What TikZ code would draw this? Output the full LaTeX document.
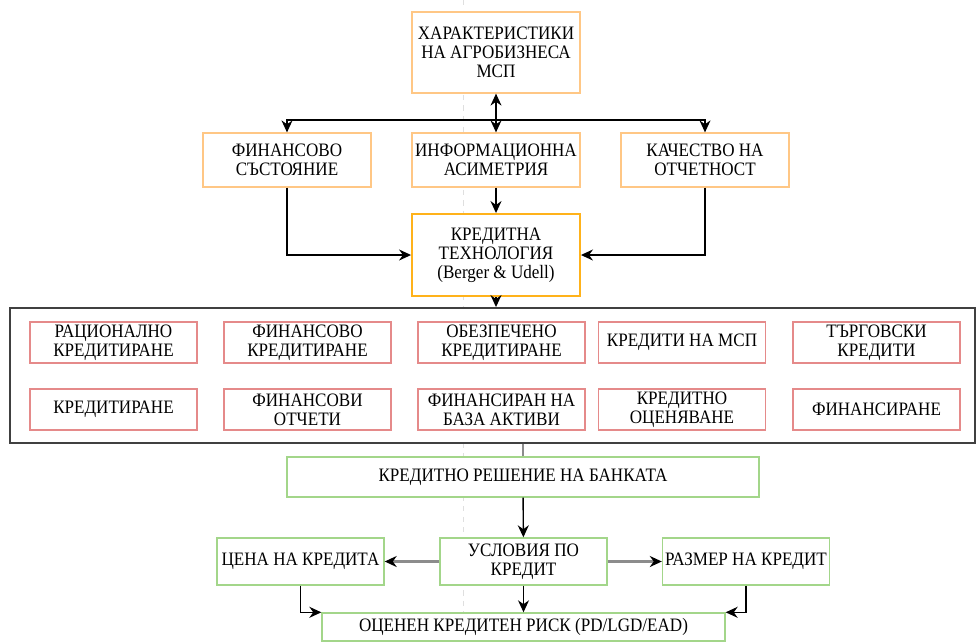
\documentclass[tikz,border=0pt]{standalone}
\usepackage{fontspec}
\setmainfont[FakeStretch=0.9]{Liberation Serif}
\usetikzlibrary{arrows.meta}

\definecolor{orangeline}{HTML}{FFC785}
\definecolor{techline}{HTML}{FFB21A}
\definecolor{redline}{HTML}{E58A8A}
\definecolor{greenline}{HTML}{A3D68A}
\definecolor{frameline}{HTML}{404040}
\definecolor{greyline}{HTML}{8C8C8C}

\begin{document}
\begin{tikzpicture}[x=0.02cm, y=-0.02cm,
	every node/.style={font=\fontsize{10.8pt}{10.8pt}\selectfont, align=center, inner sep=0pt},
	conn/.style={line width=0.8pt, -{Stealth[length=2.4mm, width=2.2mm]}},
	greyconn/.style={greyline, line width=1.5pt, -{Stealth[length=2.4mm, width=2.2mm, black]}},
	obox/.style={draw=orangeline, line width=0.7pt, fill=white, minimum width=3.36cm},
	rbox/.style={draw=redline, line width=0.7pt, fill=white, minimum width=3.34cm, minimum height=0.82cm},
	gbox/.style={draw=greenline, line width=0.8pt, fill=white}]
	\useasboundingbox (0,0) rectangle (980,643);
	% guide line
	\draw[gray!25, dashed, line width=0.5pt] (463,0) -- (463,643);
	
	% top part
	\node[obox, minimum height=1.62cm] (agro) at (496,52.5) {ХАРАКТЕРИСТИКИ\\НА АГРОБИЗНЕСА\\МСП};
	\node[obox, minimum height=1.08cm] (fin) at (287,160) {ФИНАНСОВО\\СЪСТОЯНИЕ};
	\node[obox, minimum height=1.08cm] (info) at (496,160) {ИНФОРМАЦИОННА\\АСИМЕТРИЯ};
	\node[obox, minimum height=1.08cm] (qual) at (705,160) {КАЧЕСТВО НА\\ОТЧЕТНОСТ};
	\node[obox, draw=techline, line width=1.1pt, minimum height=1.64cm] (tech) at (496,255) {КРЕДИТНА\\ТЕХНОЛОГИЯ\\(Berger \& Udell)};
	\coordinate (hub) at (496,120);
	
	\draw[conn, {Stealth[length=2.4mm, width=2.2mm]}-{Stealth[length=2.4mm, width=2.2mm]}] (agro) -- (info);
	\draw[conn] (hub) -| (fin);
	\draw[conn] (hub) -| (qual);
	\draw[conn] (info) -- (tech);
	\draw[conn] (fin) |- (tech);
	\draw[conn] (qual) |- (tech);
	
	% frame with the credit types
	\node[draw=frameline, line width=1.1pt, fill=white, minimum width=19.3cm, minimum height=2.7cm] (frame) at (492.5,375.5) {};
	\draw[conn] (tech) -- (tech |- frame.north);
	\node[rbox] (rac) at (113.5,342.5) {РАЦИОНАЛНО\\КРЕДИТИРАНЕ};
	\node[rbox] (fink) at (307.5,342.5) {ФИНАНСОВО\\КРЕДИТИРАНЕ};
	\node[rbox] (obez) at (501.5,342.5) {ОБЕЗПЕЧЕНО\\КРЕДИТИРАНЕ};
	\node[rbox] (msp) at (682,342.5) {КРЕДИТИ НА МСП};
	\node[rbox] (targ) at (876.5,342.5) {ТЪРГОВСКИ\\КРЕДИТИ};
	\node[rbox] (kred) at (113.5,409.5) {КРЕДИТИРАНЕ};
	\node[rbox] (otch) at (307.5,409.5) {ФИНАНСОВИ\\ОТЧЕТИ};
	\node[rbox] (aktiv) at (501.5,409.5) {ФИНАНСИРАН НА\\БАЗА АКТИВИ};
	\node[rbox] (ocen) at (682,409.5) {КРЕДИТНО\\ОЦЕНЯВАНЕ};
	\node[rbox] (finan) at (876.5,409.5) {ФИНАНСИРАНЕ};
	
	% bottom part
	\node[gbox, minimum width=9.44cm, minimum height=0.8cm] (dec) at (523,477) {КРЕДИТНО РЕШЕНИЕ НА БАНКАТА};
	\node[gbox, minimum width=3.34cm, minimum height=0.94cm] (price) at (300.5,561.5) {ЦЕНА НА КРЕДИТА};
	\node[gbox, minimum width=3.34cm, minimum height=0.94cm] (terms) at (523.5,561.5) {УСЛОВИЯ ПО\\КРЕДИТ};
	\node[gbox, minimum width=3.34cm, minimum height=0.94cm] (size) at (746,561.5) {РАЗМЕР НА КРЕДИТ};
	\node[gbox, minimum width=8.06cm, minimum height=0.56cm] (risk) at (523.5,627) {ОЦЕНЕН КРЕДИТЕН РИСК (PD/LGD/EAD)};
	
	\draw[greyline, line width=1.1pt] (dec.north) -- (dec.north |- frame.south);
	\draw[greyconn] (terms) -- (price);
	\draw[greyconn] (terms) -- (size);
	\draw[conn] (dec) -- (terms);
	\draw[conn] (terms) -- (risk);
	\draw[conn] (price) |- (risk.north west);
	\draw[conn] (size) |- (risk.north east);
\end{tikzpicture}
\end{document}
